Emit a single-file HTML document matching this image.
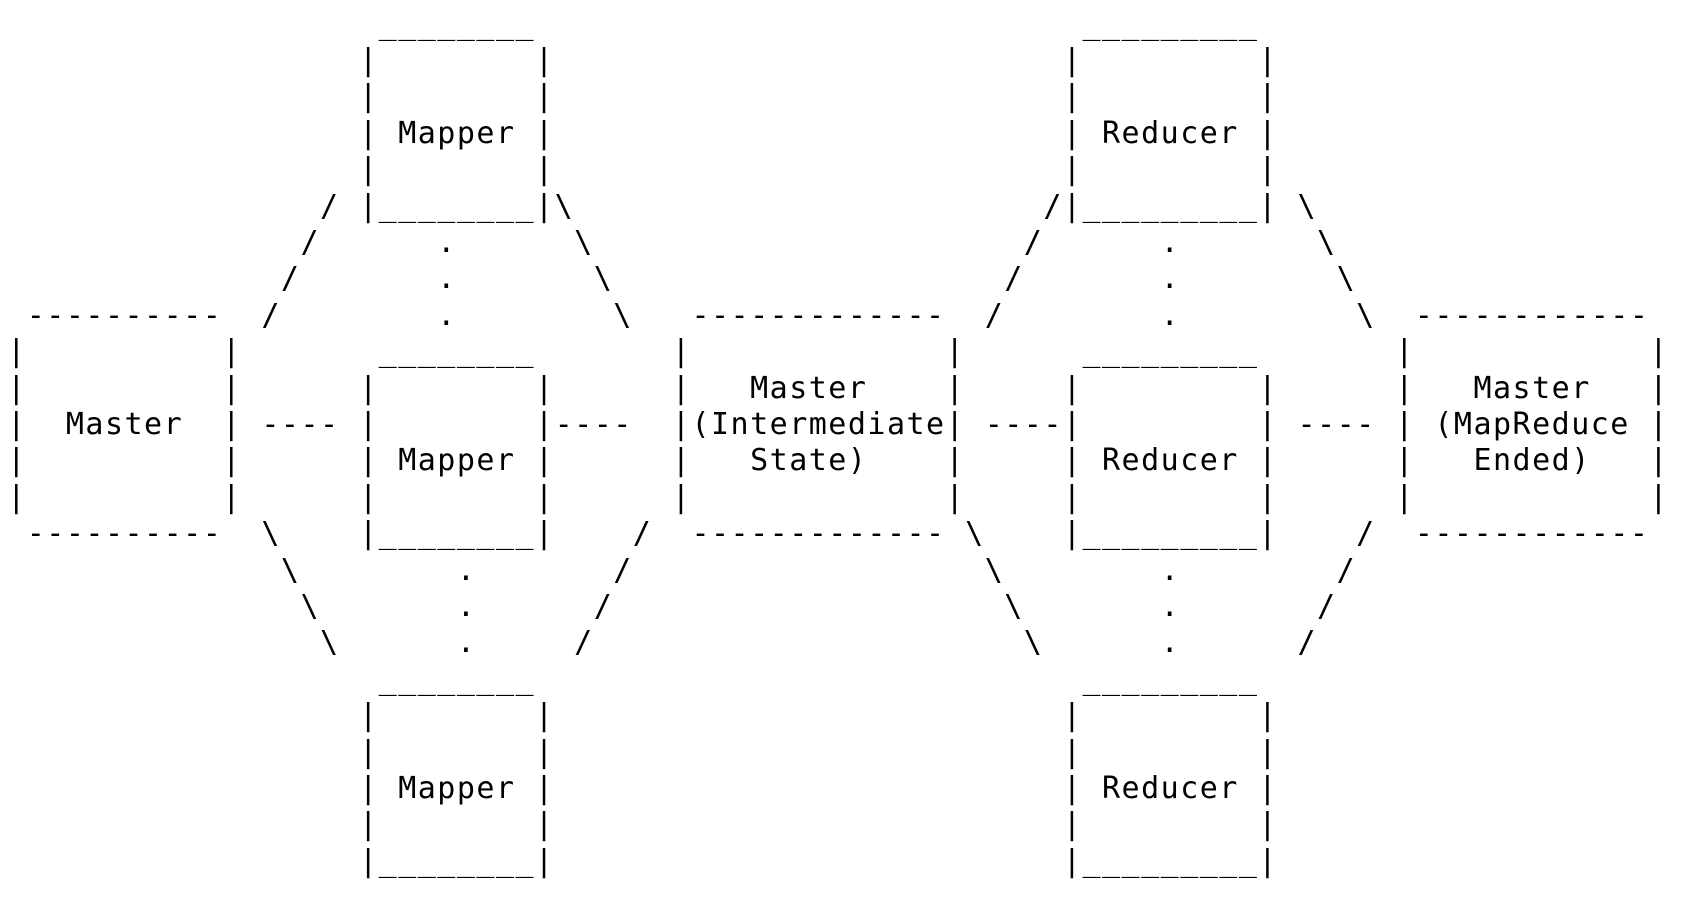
<!DOCTYPE html>
<html><head><meta charset="utf-8"><style>
html,body{margin:0;padding:0;background:#fff;}
body{width:1692px;height:914px;position:relative;overflow:hidden;}
i{font-style:normal;position:absolute;white-space:pre;font-family:"DejaVu Sans Mono","Liberation Mono",monospace;font-size:30px;letter-spacing:1.49px;line-height:36.4px;color:#000;
left:calc(7.2px + var(--c)*19.55px);top:calc(6.6px + var(--r)*36.4px);}
</style></head><body>
<i style="--r:0;--c:19">________</i><i style="--r:0;--c:55">_________</i>
<i style="--r:1;--c:18">|</i><i style="--r:1;--c:27">|</i><i style="--r:1;--c:54">|</i><i style="--r:1;--c:64">|</i>
<i style="--r:2;--c:18">|</i><i style="--r:2;--c:27">|</i><i style="--r:2;--c:54">|</i><i style="--r:2;--c:64">|</i>
<i style="--r:3;--c:18">| Mapper |</i><i style="--r:3;--c:54">| Reducer |</i>
<i style="--r:4;--c:18">|</i><i style="--r:4;--c:27">|</i><i style="--r:4;--c:54">|</i><i style="--r:4;--c:64">|</i>
<i style="--r:5;--c:16">/</i><i style="--r:5;--c:18">|________|\</i><i style="--r:5;--c:53">/|_________|</i><i style="--r:5;--c:66">\</i>
<i style="--r:6;--c:15">/</i><i style="--r:6;--c:22">.</i><i style="--r:6;--c:29">\</i><i style="--r:6;--c:52">/</i><i style="--r:6;--c:59">.</i><i style="--r:6;--c:67">\</i>
<i style="--r:7;--c:14">/</i><i style="--r:7;--c:22">.</i><i style="--r:7;--c:30">\</i><i style="--r:7;--c:51">/</i><i style="--r:7;--c:59">.</i><i style="--r:7;--c:68">\</i>
<i style="--r:8;--c:1">----------</i><i style="--r:8;--c:13">/</i><i style="--r:8;--c:22">.</i><i style="--r:8;--c:31">\</i><i style="--r:8;--c:35">-------------</i><i style="--r:8;--c:50">/</i><i style="--r:8;--c:59">.</i><i style="--r:8;--c:69">\</i><i style="--r:8;--c:72">------------</i>
<i style="--r:9;--c:0">|</i><i style="--r:9;--c:11">|</i><i style="--r:9;--c:19">________</i><i style="--r:9;--c:34">|</i><i style="--r:9;--c:48">|</i><i style="--r:9;--c:55">_________</i><i style="--r:9;--c:71">|</i><i style="--r:9;--c:84">|</i>
<i style="--r:10;--c:0">|</i><i style="--r:10;--c:11">|</i><i style="--r:10;--c:18">|</i><i style="--r:10;--c:27">|</i><i style="--r:10;--c:34">|</i><i style="--r:10;--c:38">Master</i><i style="--r:10;--c:48">|</i><i style="--r:10;--c:54">|</i><i style="--r:10;--c:64">|</i><i style="--r:10;--c:71">|</i><i style="--r:10;--c:75">Master</i><i style="--r:10;--c:84">|</i>
<i style="--r:11;--c:0">|</i><i style="--r:11;--c:3">Master</i><i style="--r:11;--c:11">|</i><i style="--r:11;--c:13">----</i><i style="--r:11;--c:18">|</i><i style="--r:11;--c:27">|----</i><i style="--r:11;--c:34">|(Intermediate|</i><i style="--r:11;--c:50">----|</i><i style="--r:11;--c:64">|</i><i style="--r:11;--c:66">----</i><i style="--r:11;--c:71">|</i><i style="--r:11;--c:73">(MapReduce</i><i style="--r:11;--c:84">|</i>
<i style="--r:12;--c:0">|</i><i style="--r:12;--c:11">|</i><i style="--r:12;--c:18">| Mapper |</i><i style="--r:12;--c:34">|</i><i style="--r:12;--c:38">State)</i><i style="--r:12;--c:48">|</i><i style="--r:12;--c:54">| Reducer |</i><i style="--r:12;--c:71">|</i><i style="--r:12;--c:75">Ended)</i><i style="--r:12;--c:84">|</i>
<i style="--r:13;--c:0">|</i><i style="--r:13;--c:11">|</i><i style="--r:13;--c:18">|</i><i style="--r:13;--c:27">|</i><i style="--r:13;--c:34">|</i><i style="--r:13;--c:48">|</i><i style="--r:13;--c:54">|</i><i style="--r:13;--c:64">|</i><i style="--r:13;--c:71">|</i><i style="--r:13;--c:84">|</i>
<i style="--r:14;--c:1">----------</i><i style="--r:14;--c:13">\</i><i style="--r:14;--c:18">|________|</i><i style="--r:14;--c:32">/</i><i style="--r:14;--c:35">-------------</i><i style="--r:14;--c:49">\</i><i style="--r:14;--c:54">|_________|</i><i style="--r:14;--c:69">/</i><i style="--r:14;--c:72">------------</i>
<i style="--r:15;--c:14">\</i><i style="--r:15;--c:23">.</i><i style="--r:15;--c:31">/</i><i style="--r:15;--c:50">\</i><i style="--r:15;--c:59">.</i><i style="--r:15;--c:68">/</i>
<i style="--r:16;--c:15">\</i><i style="--r:16;--c:23">.</i><i style="--r:16;--c:30">/</i><i style="--r:16;--c:51">\</i><i style="--r:16;--c:59">.</i><i style="--r:16;--c:67">/</i>
<i style="--r:17;--c:16">\</i><i style="--r:17;--c:23">.</i><i style="--r:17;--c:29">/</i><i style="--r:17;--c:52">\</i><i style="--r:17;--c:59">.</i><i style="--r:17;--c:66">/</i>
<i style="--r:18;--c:19">________</i><i style="--r:18;--c:55">_________</i>
<i style="--r:19;--c:18">|</i><i style="--r:19;--c:27">|</i><i style="--r:19;--c:54">|</i><i style="--r:19;--c:64">|</i>
<i style="--r:20;--c:18">|</i><i style="--r:20;--c:27">|</i><i style="--r:20;--c:54">|</i><i style="--r:20;--c:64">|</i>
<i style="--r:21;--c:18">| Mapper |</i><i style="--r:21;--c:54">| Reducer |</i>
<i style="--r:22;--c:18">|</i><i style="--r:22;--c:27">|</i><i style="--r:22;--c:54">|</i><i style="--r:22;--c:64">|</i>
<i style="--r:23;--c:18">|________|</i><i style="--r:23;--c:54">|_________|</i>
</body></html>
